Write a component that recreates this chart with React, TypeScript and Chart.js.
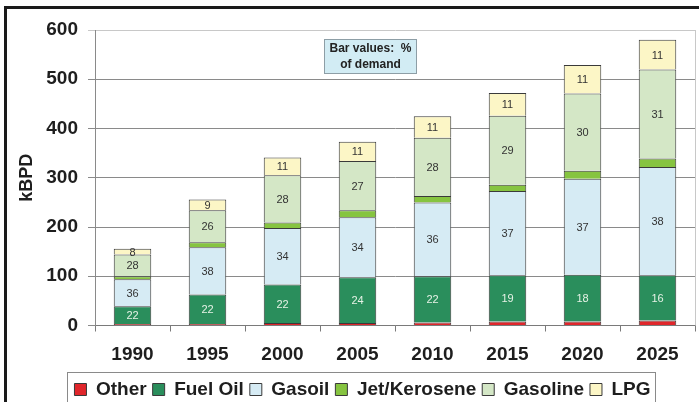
import React, { useEffect, useRef } from "react";
import { Chart, registerables } from "chart.js";

Chart.register(...registerables);

const years = ["1990", "1995", "2000", "2005", "2010", "2015", "2020", "2025"];
const other = [3, 3, 5, 5, 6, 8, 8, 10];
const fuelOil = [36, 60, 78, 93, 94, 94, 95, 92];
const gasoil = [55, 96, 115, 122, 150, 171, 195, 220];
const jetKerosene = [6, 10, 11, 14, 13, 13, 16, 17];
const gasoline = [44, 65, 96, 100, 118, 140, 157, 181];
const lpg = [12, 22, 36, 39, 44, 46, 58, 60];

const fuelOilPct = [22, 22, 22, 24, 22, 19, 18, 16];
const gasoilPct = [36, 38, 34, 34, 36, 37, 37, 38];
const gasolinePct = [28, 26, 28, 27, 28, 29, 30, 31];
const lpgPct = [8, 9, 11, 11, 11, 11, 11, 11];

const yTicks = [0, 100, 200, 300, 400, 500, 600];

const FONT = "'Liberation Sans', Arial, sans-serif";

const barLabels = {
  id: "barLabels",
  afterDatasetsDraw(chart: any) {
    const ctx = chart.ctx;
    ctx.save();
    ctx.font = `11px ${FONT}`;
    ctx.textAlign = "center";
    ctx.textBaseline = "middle";
    chart.data.datasets.forEach((ds: any, di: number) => {
      if (!ds.pct) return;
      const meta = chart.getDatasetMeta(di);
      meta.data.forEach((el: any, i: number) => {
        const { x, y, base } = el.getProps(["x", "y", "base"], true);
        ctx.fillStyle = ds.pctColor;
        ctx.fillText(String(ds.pct[i]), x, (y + base) / 2 + 1);
      });
    });
    ctx.restore();
  },
};

const frame = {
  id: "frame",
  afterLayout(chart: any) {
    const lg = chart.legend;
    if (lg) {
      lg.left += 15;
      lg.right += 15;
    }
  },
  beforeDatasetsDraw(chart: any) {
    const { ctx, chartArea: a } = chart;
    ctx.save();
    ctx.strokeStyle = "#c8c8c8";
    ctx.lineWidth = 1;
    ctx.beginPath();
    ctx.moveTo(Math.round(a.right) + 0.5, a.top);
    ctx.lineTo(Math.round(a.right) + 0.5, a.bottom);
    ctx.stroke();
    ctx.restore();
  },
  afterDraw(chart: any) {
    const { ctx, chartArea: a } = chart;
    ctx.save();
    // annotation box
    const bx = Math.round(a.left + 229) + 0.5;
    const by = Math.round(a.top + 9) + 0.5;
    ctx.fillStyle = "#d2ecf4";
    ctx.strokeStyle = "#8d9ea6";
    ctx.lineWidth = 1;
    ctx.fillRect(bx, by, 92, 34);
    ctx.strokeRect(bx, by, 92, 34);
    ctx.fillStyle = "#222";
    ctx.font = `bold 12px ${FONT}`;
    ctx.textAlign = "center";
    ctx.textBaseline = "middle";
    ctx.fillText("Bar values:  %", bx + 46, by + 9);
    ctx.fillText("of demand", bx + 46, by + 25);
    // legend border
    const hb = chart.legend && chart.legend.legendHitBoxes;
    if (hb && hb.length) {
      const l = hb[0].left;
      const last = hb[hb.length - 1];
      const r = last.left + last.width;
      const t = hb[0].top;
      ctx.strokeStyle = "#8a8a8a";
      ctx.strokeRect(Math.round(l - 7) + 0.5, Math.round(t - 8) + 0.5, Math.round(r - l + 12), 60);
    }
    ctx.restore();
  },
};

export default function App() {
  const ref = useRef<HTMLCanvasElement | null>(null);

  useEffect(() => {
    if (!ref.current) return;
    Chart.defaults.font.family = FONT;
    const mk = (label: string, data: number[], color: string, pct?: number[], pctColor?: string) => ({
      label,
      data,
      backgroundColor: color,
      borderColor: "#3a3a3a",
      borderWidth: 1,
      pct,
      pctColor,
    });
    const chart = new Chart(ref.current, {
      type: "bar",
      data: {
        labels: years,
        datasets: [
          mk("Other", other, "#e0262b"),
          mk("Fuel Oil", fuelOil, "#2a8e5c", fuelOilPct, "#e6f2e6"),
          mk("Gasoil", gasoil, "#d6ebf4", gasoilPct, "#333"),
          mk("Jet/Kerosene", jetKerosene, "#86c440"),
          mk("Gasoline", gasoline, "#d4e7c6", gasolinePct, "#333"),
          mk("LPG", lpg, "#fcf6c6", lpgPct, "#333"),
        ] as any,
      },
      options: {
        animation: false,
        responsive: false,
        maintainAspectRatio: false,
        layout: { padding: { top: 30, right: 4, left: 0, bottom: 11 } },
        datasets: { bar: { barPercentage: 0.5, categoryPercentage: 1 } } as any,
        scales: {
          x: {
            stacked: true,
            afterFit: (s: any) => {
              s.height = 48.5;
            },
            grid: {
              drawOnChartArea: false,
              drawTicks: true,
              tickLength: 6,
              color: "#7a7a7a",
              offset: true,
            },
            border: { display: true, color: "#7a7a7a" },
            ticks: {
              color: "#1e1e1e",
              font: { size: 19, weight: "bold" },
              padding: 12,
            },
          },
          y: {
            stacked: true,
            min: 0,
            max: 600,
            afterFit: (s: any) => {
              s.width = 95;
            },
            afterBuildTicks: (s: any) => {
              s.ticks = yTicks.map((v) => ({ value: v }));
            },
            grid: {
              color: (c: any) => (c.tick && c.tick.value === 600 ? "#c8c8c8" : "#8a8a8a"),
              tickLength: 7,
            },
            border: { display: true, color: "#8a8a8a" },
            ticks: {
              color: "#1e1e1e",
              font: { size: 19, weight: "bold" },
              padding: 10,
            },
            title: {
              display: true,
              text: "kBPD",
              color: "#1e1e1e",
              font: { size: 18, weight: "bold" },
              padding: { top: 16, bottom: 0 },
            },
          },
        },
        plugins: {
          legend: {
            display: true,
            position: "bottom",
            labels: {
              boxWidth: 12,
              boxHeight: 12,
              padding: 6,
              color: "#1e1e1e",
              font: { size: 19, weight: "bold" },
            },
          },
          tooltip: { enabled: false },
        },
      } as any,
      plugins: [barLabels, frame],
    });
    return () => chart.destroy();
  }, []);

  return (
    <div
      style={{
        position: "absolute",
        left: 0,
        top: 0,
        width: 699,
        height: 402,
        overflow: "hidden",
        background: "#fff",
      }}
    >
      <canvas ref={ref} width={699} height={420} style={{ display: "block", width: 699, height: 420 }} />
      <div
        style={{
          position: "absolute",
          left: 4,
          top: 6,
          width: 900,
          height: 600,
          borderTop: "3px solid #1a1a1a",
          borderLeft: "3px solid #1a1a1a",
          pointerEvents: "none",
        }}
      />
    </div>
  );
}
